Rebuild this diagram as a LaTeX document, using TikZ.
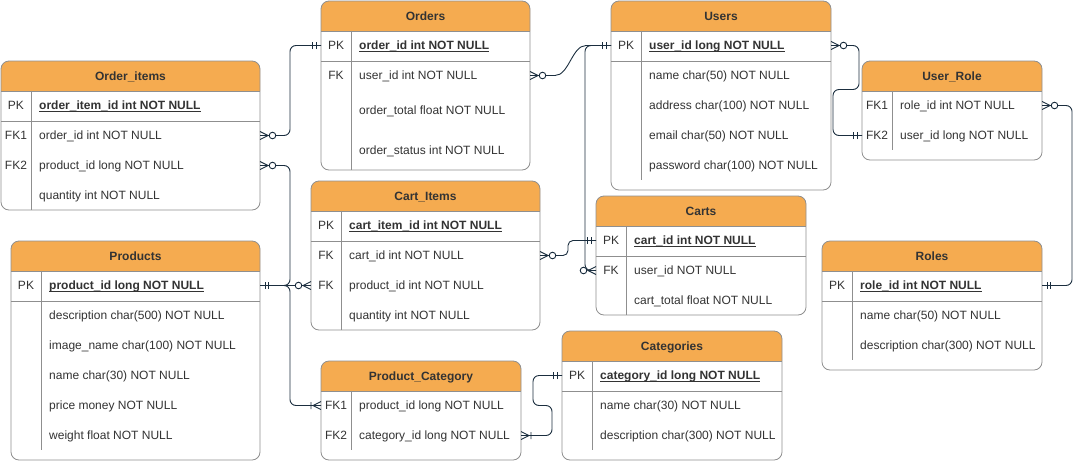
\documentclass[tikz,border=0pt]{standalone}
\usepackage{fontspec}
\setmainfont{Liberation Sans}
\usetikzlibrary{calc,fit}
\definecolor{hdrfill}{HTML}{F5AB50}
\definecolor{frameclr}{HTML}{8F8F8F}
\definecolor{relclr}{HTML}{1B2E3F}
\definecolor{txtclr}{HTML}{333333}
\tikzset{
  frame/.style={draw=frameclr, line width=0.8pt},
  rel/.style={draw=relclr, line width=0.9pt},
  row/.style={anchor=west, inner sep=0pt, text height=8.6pt, text depth=0pt,
    text=txtclr, font=\fontsize{12pt}{14pt}\selectfont},
  pk/.style={row, font=\fontsize{12pt}{14pt}\selectfont\bfseries},
  key/.style={row, anchor=center},
  title/.style={row, anchor=center, font=\fontsize{12pt}{14pt}\selectfont\bfseries},
  mandone/.pic={\draw[rel] (5,-3.5) -- (5,3.5) (8.5,-3.5) -- (8.5,3.5);},
  zeromany/.pic={\draw[rel] (0,-4) -- (8,0) -- (0,4);
    \draw[rel, fill=white] (12.5,0) circle[radius=3.3];},
  onemany/.pic={\draw[rel] (0,-4) -- (8,0) -- (0,4) (10,-3.5) -- (10,3.5);},
}
% underline that sits through the underscores, as in the diagram
\newcommand{\pkul}[1]{\setbox0=\hbox{#1}\rlap{\rule[-2.1pt]{\wd0}{0.8pt}}\box0}
% #1 name, #2 title, #3 x1, #4 y1, #5 x2, #6 y2, #7 end of key column line
\newcommand{\ertable}[7]{%
  \fill[white, rounded corners=8pt] (#3,#4) rectangle (#5,#6);
  \fill[hdrfill] (#3,#4+30) [rounded corners=8pt] -- (#3,#4) -- (#5,#4)
    [sharp corners] -- (#5,#4+30) -- cycle;
  \draw[frame, rounded corners=8pt] (#3,#4) rectangle (#5,#6);
  \draw[frame] (#3,#4+30) -- (#5,#4+30) (#3+30,#4+30) -- (#3+30,#7);
  \node[fit={(#3,#4) (#5,#6)}, inner sep=0pt, outer sep=0pt] (#1) {};
  \node[title] (#1-t) at ({(#3+#5)/2},#4+15) {#2};
}

\begin{document}
\begin{tikzpicture}[x=1pt, y=-1pt]
\useasboundingbox (0,0) rectangle (1081,461);

% Order_items
\ertable{oi}{Order\_items}{1}{61}{260}{210}{210}
\draw[frame] (1,121) -- (260,121);
\node[key] (oi-k0) at (16,105.5) {PK};
\node[pk] (oi-pk) at (39,105.5) {\pkul{order\_item\_id int NOT NULL}};
\node[key] (oi-k1) at (16,135.5) {FK1};
\node[row] (oi-fk1) at (39,135.5) {order\_id int NOT NULL};
\node[key] (oi-k2) at (16,165.5) {FK2};
\node[row] (oi-fk2) at (39,165.5) {product\_id long NOT NULL};
\node[row] (oi-qty) at (39,195.5) {quantity int NOT NULL};

% Orders
\ertable{od}{Orders}{321}{1}{530}{170}{170}
\draw[frame] (321,61) -- (530,61);
\node[key] (od-k0) at (336,45.5) {PK};
\node[pk] (od-pk) at (359,45.5) {\pkul{order\_id int NOT NULL}};
\node[key] (od-k1) at (336,75.5) {FK};
\node[row] (od-fk) at (359,75.5) {user\_id int NOT NULL};
\node[row] (od-tot) at (359,110) {order\_total float NOT NULL};
\node[row] (od-st) at (359,150) {order\_status int NOT NULL};

% Users
\ertable{us}{Users}{611}{1}{831}{190}{180}
\draw[frame] (611,61) -- (831,61);
\node[key] (us-k0) at (626,45.5) {PK};
\node[pk] (us-pk) at (649,45.5) {\pkul{user\_id long NOT NULL}};
\node[row] (us-nm) at (649,75.5) {name char(50) NOT NULL};
\node[row] (us-ad) at (649,105.5) {address char(100) NOT NULL};
\node[row] (us-em) at (649,135.5) {email char(50) NOT NULL};
\node[row] (us-pw) at (649,165.5) {password char(100) NOT NULL};

% User_Role
\ertable{ur}{User\_Role}{862}{61}{1042}{160}{150}
\node[key] (ur-k1) at (877,105.5) {FK1};
\node[row] (ur-fk1) at (900,105.5) {role\_id int NOT NULL};
\node[key] (ur-k2) at (877,135.5) {FK2};
\node[row] (ur-fk2) at (900,135.5) {user\_id long NOT NULL};

% Cart_Items
\ertable{ci}{Cart\_Items}{311}{181}{540}{330}{330}
\draw[frame] (311,241) -- (540,241);
\node[key] (ci-k0) at (326,225.5) {PK};
\node[pk] (ci-pk) at (349,225.5) {\pkul{cart\_item\_id int NOT NULL}};
\node[key] (ci-k1) at (326,255.5) {FK};
\node[row] (ci-fk1) at (349,255.5) {cart\_id int NOT NULL};
\node[key] (ci-k2) at (326,285.5) {FK};
\node[row] (ci-fk2) at (349,285.5) {product\_id int NOT NULL};
\node[row] (ci-qty) at (349,315.5) {quantity int NOT NULL};

% Carts
\ertable{ca}{Carts}{596}{196}{806}{315}{315}
\draw[frame] (596,256) -- (806,256);
\node[key] (ca-k0) at (611,240.5) {PK};
\node[pk] (ca-pk) at (634,240.5) {\pkul{cart\_id int NOT NULL}};
\node[key] (ca-k1) at (611,270.5) {FK};
\node[row] (ca-fk) at (634,270.5) {user\_id NOT NULL};
\node[row] (ca-tot) at (634,300.5) {cart\_total float NOT NULL};

% Products
\ertable{pr}{Products}{11}{241}{260}{460}{450}
\draw[frame] (11,301) -- (260,301);
\node[key] (pr-k0) at (26,285.5) {PK};
\node[pk] (pr-pk) at (49,285.5) {\pkul{product\_id long NOT NULL}};
\node[row] (pr-ds) at (49,315.5) {description char(500) NOT NULL};
\node[row] (pr-im) at (49,345.5) {image\_name char(100) NOT NULL};
\node[row] (pr-nm) at (49,375.5) {name char(30) NOT NULL};
\node[row] (pr-pm) at (49,405.5) {price money NOT NULL};
\node[row] (pr-wt) at (49,435.5) {weight float NOT NULL};

% Roles
\ertable{ro}{Roles}{822}{241}{1042}{370}{360}
\draw[frame] (822,301) -- (1042,301);
\node[key] (ro-k0) at (837,285.5) {PK};
\node[pk] (ro-pk) at (860,285.5) {\pkul{role\_id int NOT NULL}};
\node[row] (ro-nm) at (860,315.5) {name char(50) NOT NULL};
\node[row] (ro-ds) at (860,345.5) {description char(300) NOT NULL};

% Product_Category
\ertable{pc}{Product\_Category}{321}{361}{521}{460}{450}
\node[key] (pc-k1) at (336,405.5) {FK1};
\node[row] (pc-fk1) at (359,405.5) {product\_id long NOT NULL};
\node[key] (pc-k2) at (336,435.5) {FK2};
\node[row] (pc-fk2) at (359,435.5) {category\_id long NOT NULL};

% Categories
\ertable{cg}{Categories}{562}{331}{782}{460}{450}
\draw[frame] (562,391) -- (782,391);
\node[key] (cg-k0) at (577,375.5) {PK};
\node[pk] (cg-pk) at (600,375.5) {\pkul{category\_id long NOT NULL}};
\node[row] (cg-nm) at (600,405.5) {name char(30) NOT NULL};
\node[row] (cg-ds) at (600,435.5) {description char(300) NOT NULL};

% relations
\draw[rel, rounded corners=6pt] (oi-fk1 -| oi.east) -- ++(30,0) |- (od-pk -| od.west);
\draw[rel, rounded corners=6pt] (pr-pk -| pr.east) -- ++(30,0) |- (oi-fk2 -| oi.east);
\draw[rel] (pr-pk -| pr.east) -- (ci-fk2 -| ci.west);
\draw[rel, rounded corners=6pt] (pr-pk -| pr.east) -- ++(30,0) |- (pc-fk1 -| pc.west);
\draw[rel] (od-fk -| od.east) -- ++(25,0) .. controls +(14,0) and +(-14,0)
  .. ($(us-pk -| us.west)+(-25,0)$) -- (us-pk -| us.west);
\draw[rel, rounded corners=6pt] (us-pk -| us.west) -- ++(-26,0) |- (ca-fk -| ca.west);
\draw[rel, rounded corners=5pt] (ci-fk1 -| ci.east) -- ++(28,0) |- (ca-pk -| ca.west);
\draw[rel, rounded corners=6pt] (us-pk -| us.east) -- ++(28,0) -- ++(0,44) -- ++(-26,0)
  |- (ur-fk2 -| ur.west);
\draw[rel, rounded corners=6pt] (ur-fk1 -| ur.east) -- ++(30,0) |- (ro-pk -| ro.east);
\draw[rel, rounded corners=6pt] (pc-fk2 -| pc.east) -- ++(31,0) -- ++(0,-30) -- ++(-19,0)
  |- (cg-pk -| cg.west);

% relation ends
\pic at (oi-fk1 -| oi.east) {zeromany};
\pic[rotate=180] at (od-pk -| od.west) {mandone};
\pic at (pr-pk -| pr.east) {mandone};
\pic at (oi-fk2 -| oi.east) {zeromany};
\pic[rotate=180] at (ci-fk2 -| ci.west) {zeromany};
\pic[rotate=180] at (pc-fk1 -| pc.west) {onemany};
\pic at (od-fk -| od.east) {zeromany};
\pic[rotate=180] at (us-pk -| us.west) {mandone};
\pic[rotate=180] at (ca-fk -| ca.west) {zeromany};
\pic at (ci-fk1 -| ci.east) {zeromany};
\pic[rotate=180] at (ca-pk -| ca.west) {mandone};
\pic at (us-pk -| us.east) {zeromany};
\pic[rotate=180] at (ur-fk2 -| ur.west) {mandone};
\pic at (ur-fk1 -| ur.east) {zeromany};
\pic at (ro-pk -| ro.east) {mandone};
\pic at (pc-fk2 -| pc.east) {onemany};
\pic[rotate=180] at (cg-pk -| cg.west) {mandone};
\end{tikzpicture}
\end{document}
